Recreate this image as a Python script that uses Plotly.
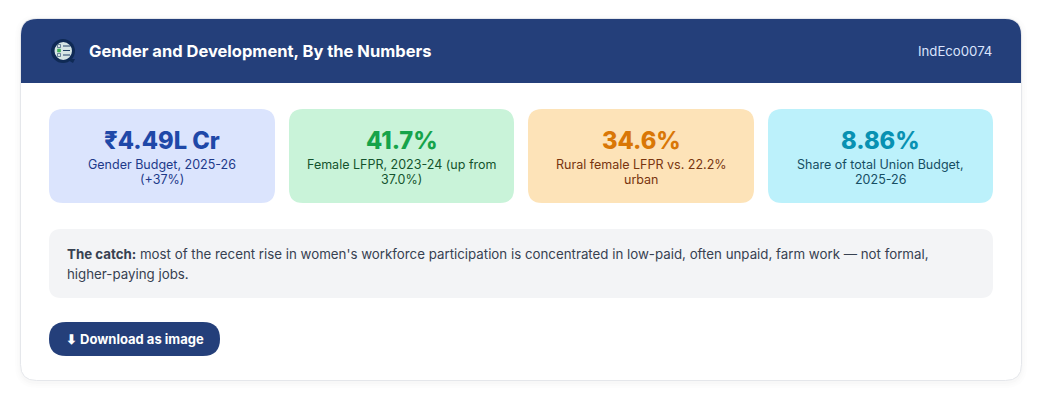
import plotly.graph_objects as go

# Text content
title = "Gender and Development, By the Numbers"
chart_id = "IndEco0074"
stat_values = ["₹4.49L Cr", "41.7%", "34.6%", "8.86%"]
stat_lines = [
    ["Gender Budget, 2025-26", "(+37%)"],
    ["Female LFPR, 2023-24 (up from", "37.0%)"],
    ["Rural female LFPR vs. 22.2%", "urban"],
    ["Share of total Union Budget,", "2025-26"],
]
catch_lines = [
    "<b>The catch:</b> most of the recent rise in women's workforce participation is concentrated in low-paid, often unpaid, farm work — not formal,",
    "higher-paying jobs.",
]
button_label = "⬇ Download as image"

# Colours
NAVY = "#243f7a"
card_fills = ["#dbe4fd", "#c9f3d9", "#fde3b8", "#bcf1fb"]
value_colors = ["#1f48a8", "#16a34a", "#d97706", "#0891b2"]
label_colors = ["#1e3a8a", "#14532d", "#78350f", "#164e63"]

# Card edges, in page pixels
card_left = [49, 289, 528, 768]
card_right = [275, 514, 754, 993]

FONT = "Inter, 'Liberation Sans', sans-serif"


def round_rect(x0, y0, x1, y1, r, corners=(True, True, True, True)):
    # corners: top-left, top-right, bottom-right, bottom-left
    tl, tr, br, bl = [r if c else 0 for c in corners]
    return (
        f"M {x0 + tl} {y0} L {x1 - tr} {y0} Q {x1} {y0} {x1} {y0 + tr} "
        f"L {x1} {y1 - br} Q {x1} {y1} {x1 - br} {y1} "
        f"L {x0 + bl} {y1} Q {x0} {y1} {x0} {y1 - bl} "
        f"L {x0} {y0 + tl} Q {x0} {y0} {x0 + tl} {y0} Z"
    )


fig = go.Figure()


def add_box(path, fill, line=None, opacity=1):
    fig.add_shape(
        type="path", path=path, xref="x", yref="y", fillcolor=fill, opacity=opacity,
        line=dict(color=line, width=1) if line else dict(width=0),
    )


def add_text(x, y, text, size, color, anchor="center", weight=None):
    fig.add_annotation(
        x=x, y=y, text=text, xref="x", yref="y", showarrow=False, xanchor=anchor, yanchor="middle",
        align=anchor, borderpad=0, font=dict(family=FONT, size=size, color=color, weight=weight),
    )


# Soft shadow under the main card
for grow, alpha in [(6, 0.006), (4, 0.009), (2, 0.012)]:
    add_box(round_rect(21 - grow, 19 - grow + 2, 1021 + grow, 380 + grow + 2, 16 + grow), "#000000", opacity=alpha)

# Main card and header
add_box(round_rect(20.5, 18.5, 1021.5, 380.5, 16), "#ffffff", line="#e5e7eb")
add_box(round_rect(21, 19, 1021, 83, 16, corners=(True, True, False, False)), NAVY)

# Header icon
fig.add_shape(type="circle", x0=51, y0=39, x1=75, y1=63, fillcolor="#0f2a55", line=dict(width=0))
fig.add_shape(type="circle", x0=54.5, y0=42, x1=72, y1=60, fillcolor="#d7e6e6", line=dict(width=0))
add_box("M 66 59 L 75 59 L 73 63 Z", "#0f2a55")
for y in [46, 50.5, 55]:
    fig.add_shape(type="line", x0=63, x1=70, y0=y, y1=y, line=dict(color="#1f3f66", width=1))
    fig.add_shape(type="rect", x0=57.5, x1=60.5, y0=y - 1.5, y1=y + 1.5,
                  fillcolor="#3fae5a" if y == 50.5 else "#d7e6e6", line=dict(color="#3fae5a" if y == 50.5 else "#1f3f66", width=0.6))

add_text(87.5, 51, title, 16.5, "#ffffff", anchor="left", weight=700)
add_text(993, 51, chart_id, 13.2, "#dbe4fd", anchor="right")

# Stat cards
for i in range(len(stat_values)):
    add_box(round_rect(card_left[i], 109, card_right[i], 203, 14), card_fills[i])
    mid = (card_left[i] + card_right[i]) / 2
    add_text(mid, 140, stat_values[i], 23.7, value_colors[i], weight=800)
    add_text(mid, 164.5, stat_lines[i][0], 12.5, label_colors[i])
    add_text(mid, 179.5, stat_lines[i][1], 12.5, label_colors[i])

# The catch
add_box(round_rect(49, 229, 993, 298, 12), "#f3f4f6")
add_text(65.5, 253.5, catch_lines[0], 13.3, "#374151", anchor="left")
add_text(65.5, 273.5, catch_lines[1], 13.3, "#374151", anchor="left")

# Download button
add_box(round_rect(49, 322, 220, 356, 17), NAVY)
add_text(134.5, 339, button_label, 13, "#ffffff", weight=700)

fig.update_layout(
    width=1042,
    height=403,
    margin=dict(l=0, r=0, t=0, b=0),
    paper_bgcolor="#ffffff",
    plot_bgcolor="#ffffff",
    showlegend=False,
    xaxis=dict(range=[0, 1042], visible=False, fixedrange=True),
    yaxis=dict(range=[403, 0], visible=False, fixedrange=True),
)

fig.write_html(
    "out.html",
    config=dict(displayModeBar=False),
    post_script="document.body.style.margin='0';document.body.style.overflow='hidden';",
)
